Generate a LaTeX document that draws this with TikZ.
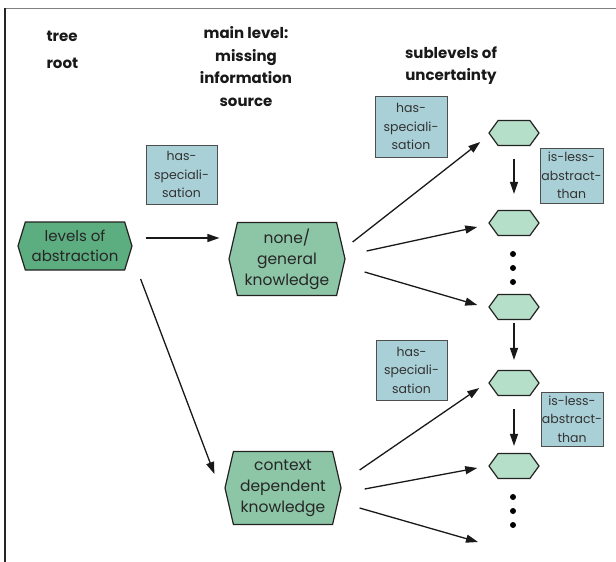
\documentclass[tikz,border=0pt]{standalone}
\usepackage{fontspec}
\setmainfont{Poppins}
\usetikzlibrary{shapes.symbols,arrows.meta,calc}
\definecolor{rootgreen}{HTML}{5CAD80}
\definecolor{maingreen}{HTML}{8DC6A7}
\definecolor{subgreen}{HTML}{B5DFC8}
\definecolor{lblblue}{HTML}{A9CFD7}
\definecolor{edge}{HTML}{222222}
\tikzset{
  hexbase/.style={signal, signal to=east and west, draw=edge, line width=1.2pt, inner sep=0pt, align=center, text=black!85},
  rootnode/.style={hexbase, fill=rootgreen, signal pointer angle=146, minimum width=114pt, minimum height=48pt, font=\fontsize{15}{20}\selectfont},
  mainnode/.style={hexbase, fill=maingreen, signal pointer angle=154, minimum width=116pt, minimum height=73pt, font=\fontsize{15.5}{21}\selectfont},
  subnode/.style={hexbase, fill=subgreen, signal pointer angle=108, minimum width=50pt, minimum height=25pt},
  lbl/.style={draw=edge!80, line width=0.8pt, fill=lblblue, align=center, inner sep=0pt, font=\fontsize{12.5}{18.5}\selectfont, text=black!80},
  header/.style={align=center, font=\fontsize{15}{22.5}\selectfont\bfseries, text=black!90},
  arr/.style={-{Triangle[length=12pt,width=8pt]}, line width=1.3pt, draw=black!90},
  dotmark/.style={circle, fill=black, inner sep=0pt, minimum size=6pt}
}
\begin{document}
\begin{tikzpicture}[x=1pt,y=-1pt]
\useasboundingbox (0,0) rectangle (616,562);
\fill[white] (0,0) rectangle (616,562);
\draw[gray, line width=1pt] (5,8.5) -- (616,8.5);
\draw[black!85, line width=1.2pt] (5,8) -- (5,562);

% headers
\node[header, align=left, anchor=north west, font=\fontsize{15}{27}\selectfont\bfseries] (h1) at (43,28) {tree\\root};
\node[header, anchor=north] (h2) at (246,23) {main level:\\missing\\information\\source};
\node[header, anchor=north] (h3) at (451,43) {sublevels of\\uncertainty};

% main nodes
\node[rootnode] (root) at (75,246) {levels of\\abstraction};
\node[mainnode] (none) at (287,259) {none/\\general\\knowledge};
\node[mainnode] (ctx) at (283,488) {context\\dependent\\knowledge};

% sublevel nodes
\node[subnode] (s1) at (514,133) {};
\node[subnode] (s2) at (514,223) {};
\node[subnode] (s3) at (514,307) {};
\node[subnode] (s4) at (514,383) {};
\node[subnode] (s5) at (514,466) {};

% labels
\node[lbl, minimum width=71pt, minimum height=59pt] (l1) at (181.5,174.5) {has-\\speciali-\\sation};
\node[lbl, minimum width=72pt, minimum height=61pt] (l2) at (411,126.5) {has-\\speciali-\\sation};
\node[lbl, minimum width=63pt, minimum height=55pt] (l3) at (571.5,175.5) {is-less-\\abstract-\\than};
\node[lbl, minimum width=71pt, minimum height=60pt] (l4) at (411.5,370) {has-\\speciali-\\sation};
\node[lbl, minimum width=62pt, minimum height=54pt] (l5) at (572,419) {is-less-\\abstract-\\than};

% dots
\node[dotmark] (d1) at (513,254) {};
\node[dotmark] (d2) at (513,268) {};
\node[dotmark] (d3) at (513,282) {};
\node[dotmark] (d4) at (513,497) {};
\node[dotmark] (d5) at (513,511) {};
\node[dotmark] (d6) at (513,525) {};

\coordinate (endc) at (478,542);

% connectors
\draw[arr] ($(root.east)+(13,-8)$) -- ($(none.west)+(-9,-21)$);
\draw[arr] ($(root.east)+(8,33)$) -- ($(ctx.west)+(-10,-14)$);
\draw[arr] ($(none.east)+(7,-17)$) -- ($(s1.west)+(-8,9)$);
\draw[arr] ($(none.east)+(21,-8)$) -- ($(s2.west)+(-11,4)$);
\draw[arr] ($(none.east)+(19,13)$) -- ($(s3.west)+(-11,-2)$);
\draw[arr] ($(ctx.east)+(18,-18)$) -- ($(s4.west)+(-9,5)$);
\draw[arr] ($(ctx.east)+(23,1)$) -- ($(s5.west)+(-11,2)$);
\draw[arr] ($(ctx.east)+(18,20)$) -- (endc);
\draw[arr] ($(s1.south)+(0,12.5)$) -- ($(s2.north)+(0,-16)$);
\draw[arr] ($(s3.south)+(0,3)$) -- ($(s4.north)+(0,-10)$);
\draw[arr] ($(s4.south)+(0,13)$) -- ($(s5.north)+(0,-7)$);
\end{tikzpicture}
\end{document}
